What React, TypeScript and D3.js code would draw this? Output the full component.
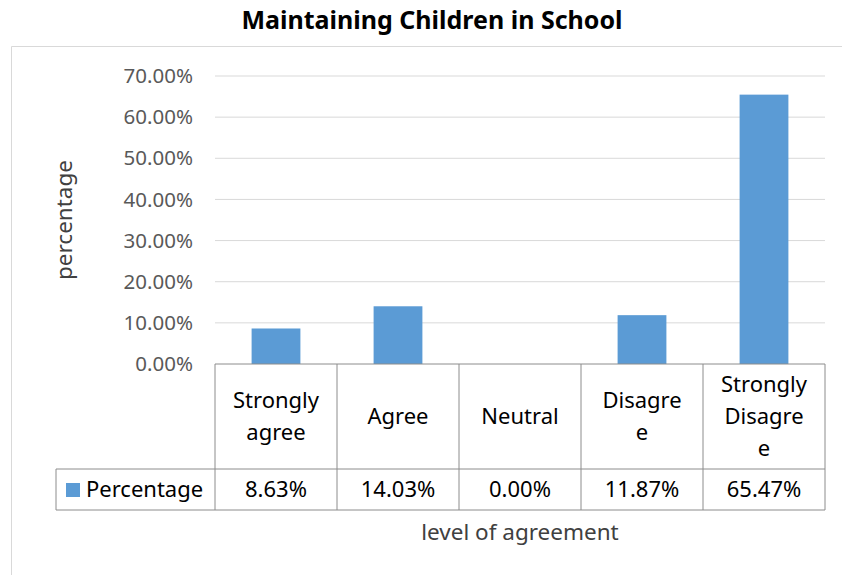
import React from 'react';
import * as d3 from 'd3';

const categories = ['Strongly agree', 'Agree', 'Neutral', 'Disagree', 'Strongly Disagree'];
// how Excel wrapped the headers in the data table
const categoryLines = [['Strongly', 'agree'], ['Agree'], ['Neutral'], ['Disagre', 'e'], ['Strongly', 'Disagre', 'e']];
const values = [8.63, 14.03, 0.0, 11.87, 65.47];
const yTicks = [0, 10, 20, 30, 40, 50, 60, 70];
const seriesName = 'Percentage';

const W = 842;
const H = 575;
const FONT = '"Noto Sans", "Open Sans", sans-serif';
const BLUE = '#5b9bd5';

const App: React.FC = () => {
  const left = 215;
  const right = 825;
  const top = 76;
  const bottom = 364;

  const x = d3.scaleBand<string>().domain(categories).range([left, right]).paddingInner(0).paddingOuter(0);
  const y = d3.scaleLinear().domain([0, 70]).range([bottom, top]);
  const barW = x.bandwidth() * 0.4;

  const rowCat = 469; // end of header row
  const rowVal = 510; // end of value row
  const legendLeft = 56;
  const gridColor = '#d9d9d9';
  const tableColor = '#8c8c8c';
  const tableFont = 22;

  return (
    <svg width={W} height={H} style={{ position: 'absolute', left: 0, top: 0, fontFamily: FONT }}>
      <rect x={0} y={0} width={W} height={H} fill="#fff" />
      {/* chart border */}
      <path d={`M11.5,${H} V46.5 H${W}`} fill="none" stroke={gridColor} strokeWidth={1} />

      <text x={432} y={20} dy="0.35em" textAnchor="middle" fontSize={25} fontWeight="bold" fill="#000">
        Maintaining Children in School
      </text>

      {/* gridlines + y labels */}
      {yTicks.map((t) => (
        <g key={t}>
          {t > 0 && <line x1={left} x2={right} y1={y(t)} y2={y(t)} stroke={gridColor} strokeWidth={1} />}
          <text x={193} y={y(t)} dy="0.35em" textAnchor="end" fontSize={20.5} fill="#595959">
            {t.toFixed(2)}%
          </text>
        </g>
      ))}

      {/* bars */}
      {categories.map((c, i) => (
        <rect
          key={c}
          x={(x(c) ?? 0) + (x.bandwidth() - barW) / 2}
          y={y(values[i])}
          width={barW}
          height={bottom - y(values[i])}
          fill={BLUE}
        />
      ))}

      {/* data table */}
      <g stroke={tableColor} strokeWidth={1} fill="none">
        <line x1={left} x2={right} y1={bottom} y2={bottom} />
        <line x1={legendLeft} x2={right} y1={rowCat} y2={rowCat} />
        <line x1={legendLeft} x2={right} y1={rowVal} y2={rowVal} />
        <line x1={legendLeft} x2={legendLeft} y1={rowCat} y2={rowVal} />
        {categories.map((c) => (
          <line key={c} x1={x(c)} x2={x(c)} y1={bottom} y2={rowVal} />
        ))}
        <line x1={right} x2={right} y1={bottom} y2={rowVal} />
      </g>

      {categories.map((c, i) => {
        const lines = categoryLines[i];
        const lh = 32;
        const cy = (bottom + rowCat) / 2 - ((lines.length - 1) * lh) / 2;
        return (
          <text key={c} textAnchor="middle" fontSize={tableFont} fill="#000">
            {lines.map((l, j) => (
              <tspan key={j} x={(x(c) ?? 0) + x.bandwidth() / 2} y={cy + j * lh} dy="0.35em">
                {l}
              </tspan>
            ))}
          </text>
        );
      })}

      {values.map((v, i) => (
        <text
          key={i}
          x={(x(categories[i]) ?? 0) + x.bandwidth() / 2}
          y={(rowCat + rowVal) / 2}
          dy="0.35em"
          textAnchor="middle"
          fontSize={tableFont}
          fill="#000"
        >
          {v.toFixed(2)}%
        </text>
      ))}

      <rect x={66} y={483} width={14} height={14} fill={BLUE} />
      <text x={86} y={(rowCat + rowVal) / 2} dy="0.35em" fontSize={tableFont} fill="#000">
        {seriesName}
      </text>

      {/* axis titles */}
      <text
        transform={`translate(64,${(top + bottom) / 2}) rotate(-90)`}
        textAnchor="middle"
        dy="0.35em"
        fontSize={22.5}
        fill="#404040"
      >
        percentage
      </text>
      <text x={520} y={532} dy="0.35em" textAnchor="middle" fontSize={22.5} fill="#404040">
        level of agreement
      </text>
    </svg>
  );
};

export default App;
